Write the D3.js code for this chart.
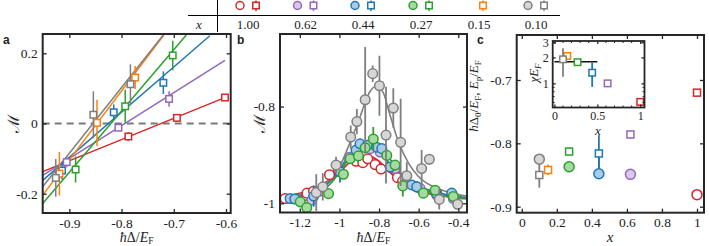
<!DOCTYPE html>
<html>
<head>
<meta charset="utf-8">
<script src="https://cdn.jsdelivr.net/npm/d3@7"></script>
<style>
  body { margin: 0; background: #fff; }
  svg { display: block; }
  text { font-family: "Liberation Serif", "DejaVu Serif", serif; fill: #222; }
</style>
</head>
<body>
<svg id="fig" width="709" height="246"></svg>
<script>
// ---- series (same order everywhere) ----
const seriesX = ["1.00", "0.62", "0.44", "0.27", "0.15", "0.10"];
const seriesXNum = [1.00, 0.62, 0.44, 0.27, 0.15, 0.10];
const strokeCol = ["#d62728", "#9467bd", "#1f77b4", "#2ca02c", "#ff7f0e", "#7f7f7f"];
const fillCol = ["#ffffff", "#d8c8ea", "#a9cbe8", "#a6daa0", "#ffffff", "#d6d6d6"];
const hasCircle = [true, true, true, true, false, true];

// ---- panel a: M vs hbar Delta / E_F, squares + linear fits ----
const aPtX = [
  [-0.602, -0.694, -0.787],
  [-0.709, -0.806, -0.905],
  [-0.720, -0.815, -0.914],
  [-0.702, -0.793, -0.888],
  [-0.774, -0.847, -0.919],
  [-0.783, -0.854, -0.926]
];
const aPtY = [
  [0.074, 0.016, -0.037],
  [0.070, -0.012, -0.110],
  [0.116, 0.032, -0.134],
  [0.194, 0.049, -0.131],
  [0.131, 0.002, -0.143],
  [0.112, 0.025, -0.155]
];
const aPtErr = [
  [0.008, 0.010, 0.012],
  [0.022, 0.010, 0.015],
  [0.032, 0.022, 0.025],
  [0.042, 0.047, 0.037],
  [0.033, 0.066, 0.062],
  [0.057, 0.067, 0.054]
];
const aFitX1 = [-0.951, -0.951, -0.951, -0.951, -0.951, -0.951];
const aFitY1 = [-0.137, -0.148, -0.162, -0.228, -0.204, -0.180];
const aFitX2 = [-0.600, -0.602, -0.631, -0.676, -0.719, -0.720];
const aFitY2 = [0.075, 0.180, 0.250, 0.252, 0.252, 0.252];
const aXTicks = [-0.9, -0.8, -0.7, -0.6];
const aYTicks = [-0.2, 0, 0.2];

// ---- panel b: M vs hbar Delta / E_F, circles + peak fits ----
const bPtX = [
  [-1.274, -1.164, -1.131, -1.050, -1.005, -0.916, -0.882, -0.857, -0.820, -0.790, -0.736, -0.707, -0.681, -0.610, -0.509],
  [-1.139, -1.100, -0.950, -0.845, -0.795, -0.719, -0.593, -0.509, -0.425],
  [-1.249, -1.225, -1.130, -0.997, -0.916, -0.896, -0.859, -0.812, -0.786, -0.744, -0.635, -0.610, -0.512, -0.433],
  [-1.198, -1.165, -1.055, -0.980, -0.946, -0.904, -0.870, -0.829, -0.761, -0.719, -0.680, -0.576, -0.517, -0.425],
  [],
  [-1.117, -1.084, -1.017, -0.943, -0.912, -0.870, -0.832, -0.798, -0.765, -0.728, -0.691, -0.660, -0.585, -0.546, -0.496, -0.403]
];
const bPtY = [
  [-0.990, -0.979, -0.975, -0.941, -0.932, -0.913, -0.916, -0.908, -0.920, -0.929, -0.927, -0.947, -0.954, -0.966, -0.979],
  [-0.993, -0.975, -0.905, -0.887, -0.894, -0.928, -0.969, -0.983, -0.990],
  [-0.990, -0.991, -0.985, -0.935, -0.890, -0.877, -0.880, -0.884, -0.887, -0.925, -0.962, -0.966, -0.979, -0.979],
  [-0.997, -1.009, -0.980, -0.940, -0.908, -0.902, -0.885, -0.867, -0.901, -0.921, -0.964, -0.979, -0.973, -0.986],
  [],
  [-0.978, -0.966, -0.921, -0.863, -0.831, -0.786, -0.732, -0.757, -0.859, -0.803, -0.874, -0.943, -0.928, -0.909, -0.992, -1.002]
];
const bPtErr = [
  [0.006, 0.006, 0.006, 0.008, 0.008, 0.006, 0.006, 0.006, 0.006, 0.006, 0.006, 0.006, 0.006, 0.006, 0.006],
  [0.006, 0.008, 0.008, 0.008, 0.008, 0.008, 0.006, 0.006, 0.006],
  [0.006, 0.006, 0.022, 0.022, 0.010, 0.008, 0.008, 0.008, 0.008, 0.008, 0.008, 0.008, 0.006, 0.006],
  [0.006, 0.008, 0.008, 0.010, 0.010, 0.010, 0.012, 0.025, 0.012, 0.010, 0.022, 0.008, 0.008, 0.006],
  [],
  [0.038, 0.028, 0.017, 0.024, 0.026, 0.109, 0.017, 0.062, 0.100, 0.041, 0.090, 0.028, 0.038, 0.010, 0.021, 0.010]
];
const bFit = [
  [[-1.3, -0.986], [-1.2, -0.979], [-1.1, -0.964], [-1.0, -0.936], [-0.95, -0.916], [-0.9, -0.904], [-0.86, -0.902], [-0.8, -0.913], [-0.75, -0.934], [-0.7, -0.952], [-0.6, -0.974], [-0.5, -0.984], [-0.355, -0.990]],
  [[-1.3, -0.992], [-1.2, -0.987], [-1.1, -0.972], [-1.0, -0.934], [-0.95, -0.906], [-0.9, -0.889], [-0.85, -0.886], [-0.8, -0.896], [-0.75, -0.918], [-0.7, -0.944], [-0.6, -0.970], [-0.5, -0.983], [-0.4, -0.990], [-0.355, -0.991]],
  [[-1.3, -0.990], [-1.2, -0.985], [-1.1, -0.971], [-1.0, -0.930], [-0.95, -0.899], [-0.9, -0.879], [-0.85, -0.874], [-0.8, -0.886], [-0.75, -0.906], [-0.7, -0.934], [-0.6, -0.964], [-0.5, -0.978], [-0.4, -0.986], [-0.355, -0.988]],
  [[-1.22, -0.999], [-1.1, -0.980], [-1.0, -0.937], [-0.95, -0.906], [-0.9, -0.886], [-0.85, -0.879], [-0.8, -0.889], [-0.75, -0.916], [-0.7, -0.944], [-0.6, -0.968], [-0.5, -0.981], [-0.4, -0.988], [-0.355, -0.990]],
  [],
  [[-1.3, -0.987], [-1.2, -0.982], [-1.1, -0.967], [-1.0, -0.925], [-0.95, -0.878], [-0.9, -0.826], [-0.85, -0.772], [-0.815, -0.758], [-0.78, -0.770], [-0.75, -0.810], [-0.7, -0.875], [-0.65, -0.918], [-0.6, -0.945], [-0.5, -0.970], [-0.4, -0.982], [-0.355, -0.985]]
];
const bXTicks = [-1.2, -1, -0.8, -0.6, -0.4];
const bYTicks = [-1, -0.8];

// ---- panel c: hbar Delta0 / E_F (squares) and E_p / E_F (circles) vs x ----
const cDelta0 = [-0.720, -0.786, -0.816, -0.813, -0.842, -0.850];
const cDelta0Err = [0.004, 0.006, 0.029, 0.006, 0.008, 0.020];
const cEp = [-0.881, -0.849, -0.848, -0.837, null, -0.825];
const cXTicks = [0, 0.2, 0.4, 0.6, 0.8, 1];
const cYTicks = [-0.9, -0.8, -0.7];

// inset: chi E_F vs x (log y)
const chi = [0.61, 1.00, 1.33, 1.76, 2.08, 1.90];
const chiLo = [0.57, 0.95, 0.91, 1.70, 1.90, 1.19];
const chiHi = [0.65, 1.05, 1.74, 1.82, 2.28, 2.55];
const chiRefX = [0.0, 0.5];
const chiRefY = 1.78;
const inXTicks = [0, 0.5, 1];
const inYTicks = [1, 2, 3];
const inYMinor = [0.6, 0.7, 0.8, 0.9];
const inXMinor = [0.1, 0.2, 0.3, 0.4, 0.6, 0.7, 0.8, 0.9];

// ---------------------------------------------------------------
const svg = d3.select("#fig");
const ink = "#262626";
const fmt = d => String(d);

function boxAxes(g, x, y, xt, yt, o) {
  o = o || {};
  const [x0, x1] = x.range(), [yb, yt0] = y.range();
  const tl = o.tick || 4, fs = o.fs || 13.5;
  const ax = [
    g.append("g").attr("transform", `translate(0,${yb})`)
      .call(d3.axisBottom(x).tickValues(xt).tickSizeInner(-tl).tickSizeOuter(0).tickPadding(o.padX || 5).tickFormat(fmt)),
    g.append("g").attr("transform", `translate(0,${yt0})`)
      .call(d3.axisTop(x).tickValues(xt).tickSizeInner(-tl).tickSizeOuter(0).tickFormat("")),
    g.append("g").attr("transform", `translate(${x0},0)`)
      .call(d3.axisLeft(y).tickValues(yt).tickSizeInner(-tl).tickSizeOuter(0).tickPadding(o.padY || 5).tickFormat(fmt)),
    g.append("g").attr("transform", `translate(${x1},0)`)
      .call(d3.axisRight(y).tickValues(yt).tickSizeInner(-tl).tickSizeOuter(0).tickFormat(""))
  ];
  ax.forEach(a => {
    a.select(".domain").remove();
    a.attr("font-family", null).attr("font-size", null);
    a.selectAll("line").attr("stroke", ink).attr("stroke-width", 1.3);
    a.selectAll("text").style("font-size", fs + "px").attr("fill", "#222");
  });
  g.append("rect").attr("x", x0).attr("y", yt0).attr("width", x1 - x0).attr("height", yb - yt0)
    .attr("fill", "none").attr("stroke", ink).attr("stroke-width", o.frame || 2);
}

function square(g, cx, cy, s, col, fill) {
  g.append("rect").attr("x", cx - s / 2).attr("y", cy - s / 2).attr("width", s).attr("height", s)
    .attr("fill", fill).attr("stroke", col).attr("stroke-width", 1.5);
}
function vbar(g, cx, y1, y2, col, w) {
  g.append("line").attr("x1", cx).attr("x2", cx).attr("y1", y1).attr("y2", y2)
    .attr("stroke", col).attr("stroke-width", w || 1.5);
}
function circle(g, cx, cy, r, col, fill) {
  g.append("circle").attr("cx", cx).attr("cy", cy).attr("r", r)
    .attr("fill", fill).attr("stroke", col).attr("stroke-width", 1.5);
}
function clip(id, x, y) {
  const [x0, x1] = x.range(), [yb, yt] = y.range();
  svg.append("clipPath").attr("id", id).append("rect")
    .attr("x", x0).attr("y", yt).attr("width", x1 - x0).attr("height", yb - yt);
}

// xlabel hbar Delta / E_F
function deltaLabel(cx, y) {
  const t = svg.append("text").attr("x", cx).attr("y", y).attr("text-anchor", "middle").style("font-size", "14px");
  t.append("tspan").attr("font-style", "italic").text("ħ");
  t.append("tspan").text("Δ/");
  t.append("tspan").attr("font-style", "italic").text("E");
  t.append("tspan").attr("dy", 2).style("font-size", "9.5px").text("F");
}
function mLabel(x, y) {
  svg.append("text").attr("transform", `translate(${x},${y}) rotate(-90)`)
    .attr("text-anchor", "middle").style("font-size", "16px").text("ℳ");
}
function panelLetter(x, y, s) {
  svg.append("text").attr("x", x).attr("y", y).style("font-family", "'Liberation Sans', Arial, sans-serif")
    .style("font-weight", "bold").style("font-size", "12px").attr("fill", "#000").text(s);
}

// ---------------- header table ----------------
const legX = [248, 305.5, 363, 421, 479, 536];
const head = svg.append("g");
head.append("line").attr("x1", 188).attr("x2", 560).attr("y1", 15.5).attr("y2", 15.5).attr("stroke", "#000").attr("stroke-width", 1);
head.append("line").attr("x1", 217.5).attr("x2", 217.5).attr("y1", 0).attr("y2", 32).attr("stroke", "#000").attr("stroke-width", 1);
head.append("text").attr("x", 199).attr("y", 29).attr("text-anchor", "middle").attr("font-style", "italic").style("font-size", "13px").text("x");
seriesX.forEach((s, i) => {
  const cx = legX[i];
  head.append("text").attr("x", cx).attr("y", 29).attr("text-anchor", "middle").style("font-size", "13px").text(s);
  if (hasCircle[i]) {
    circle(head, cx - 8, 5.5, 4, strokeCol[i], fillCol[i]);
    vbar(head, cx + 8, 0.5, 11, strokeCol[i]);
    square(head, cx + 8, 5.5, 6.5, strokeCol[i], "#fff");
  } else {
    vbar(head, cx + 4, 0.5, 11, strokeCol[i]);
    square(head, cx + 4, 5.5, 6.5, strokeCol[i], "#fff");
  }
});

// ---------------- panel a ----------------
const ax = d3.scaleLinear().domain([-0.951, -0.591]).range([42.7, 230.7]);
const ay = d3.scaleLinear().domain([-0.255, 0.255]).range([213, 34]);
clip("clipA", ax, ay);
const ga = svg.append("g");
const gaData = ga.append("g").attr("clip-path", "url(#clipA)");
gaData.append("line").attr("x1", ax.range()[0]).attr("x2", ax.range()[1]).attr("y1", ay(0)).attr("y2", ay(0))
  .attr("stroke", "#7a7a7a").attr("stroke-width", 2).attr("stroke-dasharray", "7,5");
seriesX.forEach((s, i) => {
  gaData.append("line").attr("x1", ax(aFitX1[i])).attr("y1", ay(aFitY1[i]))
    .attr("x2", ax(aFitX2[i])).attr("y2", ay(aFitY2[i]))
    .attr("stroke", strokeCol[i]).attr("stroke-width", 1.5);
});
seriesX.forEach((s, i) => {
  aPtX[i].forEach((xv, j) => {
    vbar(gaData, ax(xv), ay(aPtY[i][j] - aPtErr[i][j]), ay(aPtY[i][j] + aPtErr[i][j]), strokeCol[i]);
    square(gaData, ax(xv), ay(aPtY[i][j]), 6.5, strokeCol[i], "#fff");
  });
});
boxAxes(ga, ax, ay, aXTicks, aYTicks);
deltaLabel(136.7, 241.5);
mLabel(19, 124);
panelLetter(3, 44, "a");

// ---------------- panel b ----------------
const bx = d3.scaleLinear().domain([-1.3, -0.356]).range([280, 467]);
const by = d3.scaleLinear().domain([-1.019, -0.650]).range([212.5, 34]);
clip("clipB", bx, by);
const gb = svg.append("g");
const gbData = gb.append("g").attr("clip-path", "url(#clipB)");
const curve = d3.line().x(d => bx(d[0])).y(d => by(d[1])).curve(d3.curveMonotoneX);
[0, 1, 2, 3, 5].forEach(i => {
  gbData.append("path").attr("d", curve(bFit[i])).attr("fill", "none")
    .attr("stroke", strokeCol[i]).attr("stroke-width", 1.6);
});
[0, 1, 2, 3, 5].forEach(i => {
  bPtX[i].forEach((xv, j) => {
    const e = bPtErr[i][j];
    if (e > 0.006) vbar(gbData, bx(xv), by(bPtY[i][j] - e), by(bPtY[i][j] + e), strokeCol[i], 1.8);
    circle(gbData, bx(xv), by(bPtY[i][j]), 4.8, strokeCol[i], fillCol[i]);
  });
});
boxAxes(gb, bx, by, bXTicks, bYTicks);
deltaLabel(373.5, 241.5);
mLabel(265, 124);
panelLetter(237, 44, "b");

// ---------------- panel c ----------------
const cx = d3.scaleLinear().domain([-0.029, 1.04]).range([516.7, 704]);
const cy = d3.scaleLinear().domain([-0.9095, -0.629]).range([212.7, 35]);
const gc = svg.append("g");
seriesXNum.forEach((xv, i) => {
  vbar(gc, cx(xv), cy(cDelta0[i] - cDelta0Err[i]), cy(cDelta0[i] + cDelta0Err[i]), strokeCol[i], 1.8);
});
// blue bar reaches its circle
vbar(gc, cx(seriesXNum[2]), cy(cDelta0[2]), cy(cEp[2]), strokeCol[2], 1.8);
seriesXNum.forEach((xv, i) => {
  if (cEp[i] !== null) circle(gc, cx(xv), cy(cEp[i]), 5, strokeCol[i], fillCol[i]);
  square(gc, cx(xv), cy(cDelta0[i]), 7, strokeCol[i], "#fff");
});
boxAxes(gc, cx, cy, cXTicks, cYTicks);
svg.append("text").attr("x", 610).attr("y", 242).attr("text-anchor", "middle")
  .attr("font-style", "italic").style("font-size", "15px").text("x");
{
  const t = svg.append("text").attr("transform", "translate(478,96) rotate(-90)")
    .attr("text-anchor", "middle").style("font-size", "13px");
  t.append("tspan").attr("font-style", "italic").text("ħ");
  t.append("tspan").text("Δ");
  t.append("tspan").attr("dy", 3).style("font-size", "9px").text("0");
  t.append("tspan").attr("dy", -3).text("/");
  t.append("tspan").attr("font-style", "italic").text("E");
  t.append("tspan").attr("dy", 3).style("font-size", "9px").text("F");
  t.append("tspan").attr("dy", -3).text(", ");
  t.append("tspan").attr("font-style", "italic").text("E");
  t.append("tspan").attr("dy", 3).style("font-size", "9px").text("p");
  t.append("tspan").attr("dy", -3).text("/");
  t.append("tspan").attr("font-style", "italic").text("E");
  t.append("tspan").attr("dy", 3).style("font-size", "9px").text("F");
}
panelLetter(477, 44, "c");

// inset
const ix = d3.scaleLinear().domain([-0.02, 1.05]).range([552.7, 644.5]);
const iy = d3.scaleLog().domain([0.525, 3.1]).range([107.5, 41]);
const gi = svg.append("g");
gi.append("rect").attr("x", 552.7).attr("y", 41).attr("width", 644.5 - 552.7).attr("height", 107.5 - 41).attr("fill", "#fff");
gi.append("line").attr("x1", ix(chiRefX[0])).attr("x2", ix(chiRefX[1])).attr("y1", iy(chiRefY)).attr("y2", iy(chiRefY))
  .attr("stroke", "#111").attr("stroke-width", 1.6);
seriesXNum.forEach((xv, i) => {
  vbar(gi, ix(xv), iy(chiLo[i]), iy(chiHi[i]), strokeCol[i], 1.8);
  square(gi, ix(xv), iy(chi[i]), 6.5, strokeCol[i], "#fff");
});
// minor ticks
inYMinor.forEach(v => {
  gi.append("line").attr("x1", 552.7).attr("x2", 554.7).attr("y1", iy(v)).attr("y2", iy(v)).attr("stroke", ink);
  gi.append("line").attr("x1", 642.5).attr("x2", 644.5).attr("y1", iy(v)).attr("y2", iy(v)).attr("stroke", ink);
});
inXMinor.forEach(v => {
  gi.append("line").attr("x1", ix(v)).attr("x2", ix(v)).attr("y1", 41).attr("y2", 43).attr("stroke", ink);
  gi.append("line").attr("x1", ix(v)).attr("x2", ix(v)).attr("y1", 105.5).attr("y2", 107.5).attr("stroke", ink);
});
boxAxes(gi, ix, iy, inXTicks, inYTicks, { tick: 3, fs: 12, padX: 4, padY: 4, frame: 1.8 });
svg.append("text").attr("x", 598).attr("y", 135).attr("text-anchor", "middle")
  .attr("font-style", "italic").style("font-size", "13px").text("x");
{
  const t = svg.append("text").attr("transform", "translate(538,73) rotate(-90)")
    .attr("text-anchor", "middle").style("font-size", "13px").attr("font-style", "italic");
  t.append("tspan").text("χE");
  t.append("tspan").attr("dy", 3).style("font-size", "9px").text("F");
}
</script>
</body>
</html>
